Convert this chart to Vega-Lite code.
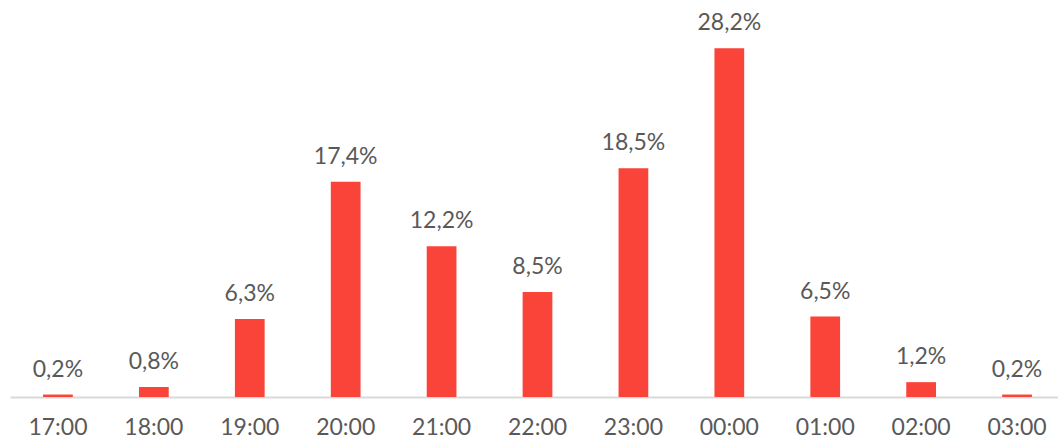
{
  "$schema": "https://vega.github.io/schema/vega-lite/v6.json",
  "width": 1055,
  "height": 371,
  "autosize": {"type": "none"},
  "padding": {"left": 10, "top": 26, "right": 0, "bottom": 42},
  "data": {"values": [
    {"hour": "17:00", "share": 0.002},
    {"hour": "18:00", "share": 0.008},
    {"hour": "19:00", "share": 0.063},
    {"hour": "20:00", "share": 0.174},
    {"hour": "21:00", "share": 0.122},
    {"hour": "22:00", "share": 0.085},
    {"hour": "23:00", "share": 0.185},
    {"hour": "00:00", "share": 0.282},
    {"hour": "01:00", "share": 0.065},
    {"hour": "02:00", "share": 0.012},
    {"hour": "03:00", "share": 0.002}
  ]},
  "encoding": {
    "x": {"field": "hour", "type": "nominal", "sort": null,
      "scale": {"paddingInner": 0.69, "paddingOuter": 0.345},
      "axis": {"title": null, "labelAngle": 0, "ticks": false, "domainColor": "#d9d9d9", "domainWidth": 2,
        "labelFont": "Lato", "labelFontSize": 23, "labelColor": "#595959", "labelPadding": 19}},
    "y": {"field": "share", "type": "quantitative", "scale": {"domain": [0, 0.3]}, "axis": null}
  },
  "layer": [
    {"mark": {"type": "bar", "color": "#FA4339"}},
    {"mark": {"type": "text", "baseline": "bottom", "dy": -13, "font": "Lato", "fontSize": 23, "color": "#595959"},
     "encoding": {"text": {"field": "share", "type": "quantitative", "format": ".1%"}}}
  ],
  "config": {
    "view": {"stroke": null},
    "locale": {"number": {"decimal": ",", "thousands": ".", "grouping": [3], "currency": ["", " €"]}}
  }
}
